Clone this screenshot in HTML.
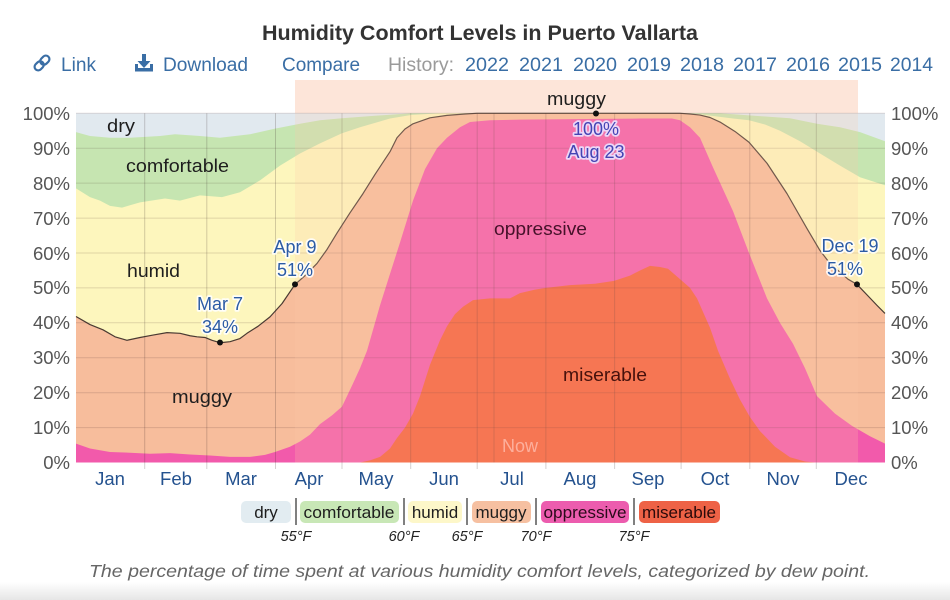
<!DOCTYPE html>
<html>
<head>
<meta charset="utf-8">
<style>
html,body{margin:0;padding:0;background:#fff;}
body{width:950px;height:600px;overflow:hidden;font-family:"Liberation Sans",sans-serif;}
svg{display:block;}
.ax{font-family:"Liberation Sans",sans-serif;font-size:18.5px;fill:#555;}
.mo{font-family:"Liberation Sans",sans-serif;font-size:18.5px;fill:#24528f;text-anchor:middle;}
.lb{font-family:"Liberation Sans",sans-serif;font-size:18px;fill:#1e1e1e;}
.an{font-family:"Liberation Sans",sans-serif;font-size:18px;fill:#2b5ba5;text-anchor:middle;paint-order:stroke;stroke:rgba(255,255,255,0.85);stroke-width:3.5px;stroke-linejoin:round;}
.nav{font-family:"Liberation Sans",sans-serif;font-size:19px;fill:#3a6ea5;}
.lg{font-family:"Liberation Sans",sans-serif;font-size:17px;fill:#1e1e1e;text-anchor:middle;}
.tf{font-family:"Liberation Sans",sans-serif;font-size:14.5px;font-style:italic;fill:#222;text-anchor:middle;}
</style>
</head>
<body>
<svg width="950" height="600" viewBox="0 0 950 600" xmlns="http://www.w3.org/2000/svg">
<defs>
<linearGradient id="bg" x1="0" y1="0" x2="0" y2="1">
<stop offset="0" stop-color="#ffffff"/>
<stop offset="1" stop-color="#e6e6e6"/>
</linearGradient>
</defs>
<rect x="0" y="0" width="950" height="600" fill="#fff"/>
<rect x="0" y="582" width="950" height="18" fill="url(#bg)"/>

<!-- Title -->
<text x="480" y="40" text-anchor="middle" font-family="Liberation Sans" font-weight="bold" font-size="21" fill="#333" textLength="436" lengthAdjust="spacingAndGlyphs">Humidity Comfort Levels in Puerto Vallarta</text>

<!-- Nav row -->
<g fill="none" stroke="#3a6ea5" stroke-width="2.2" stroke-linecap="round">
<g transform="translate(42,63) rotate(-45)">
<rect x="-9" y="-3.6" width="10" height="7.2" rx="3.6"/>
<rect x="-1" y="-3.6" width="10" height="7.2" rx="3.6"/>
</g>
</g>
<g fill="#3a6ea5">
<rect x="142" y="54" width="4" height="9"/>
<polygon points="137.5,61 150.5,61 144,68"/>
<rect x="135" y="68" width="18" height="3.5"/>
<rect x="135" y="64" width="3" height="6"/>
<rect x="150" y="64" width="3" height="6"/>
</g>
<text class="nav" x="61" y="71" textLength="35" lengthAdjust="spacingAndGlyphs">Link</text>
<text class="nav" x="163" y="71" textLength="85" lengthAdjust="spacingAndGlyphs">Download</text>
<text class="nav" x="282" y="71" textLength="78" lengthAdjust="spacingAndGlyphs">Compare</text>
<text class="nav" x="388" y="71" style="fill:#9a9a9a" textLength="66" lengthAdjust="spacingAndGlyphs">History:</text>
<text class="nav" x="465" y="71" textLength="44" lengthAdjust="spacingAndGlyphs">2022</text>
<text class="nav" x="519" y="71" textLength="44" lengthAdjust="spacingAndGlyphs">2021</text>
<text class="nav" x="573" y="71" textLength="44" lengthAdjust="spacingAndGlyphs">2020</text>
<text class="nav" x="627" y="71" textLength="44" lengthAdjust="spacingAndGlyphs">2019</text>
<text class="nav" x="680" y="71" textLength="44" lengthAdjust="spacingAndGlyphs">2018</text>
<text class="nav" x="733" y="71" textLength="44" lengthAdjust="spacingAndGlyphs">2017</text>
<text class="nav" x="786" y="71" textLength="44" lengthAdjust="spacingAndGlyphs">2016</text>
<text class="nav" x="838" y="71" textLength="44" lengthAdjust="spacingAndGlyphs">2015</text>
<text class="nav" x="890" y="71" textLength="43" lengthAdjust="spacingAndGlyphs">2014</text>

<!-- Top highlight band above plot -->
<rect x="295" y="80" width="563" height="33.3" fill="#fde5d9"/>

<!-- Plot areas in data coordinates: x pixel, y percent -->
<g transform="translate(0,462.5) scale(1,-3.492)">
<rect x="76" y="0" width="809" height="100" fill="#e1e9ef"/>
<polygon fill="#c6e5b1" points="76,0 76,94.6 90,93.5 110,93 130,93 160,93.5 175,94 200,93.5 220,93 250,94 275,95.6 300,97 320,98 342,98.6 370,99.2 390,99.6 411,100 720,100 749,99.4 790,98.6 817,97 840,96 860,94.6 885,92 885,0"/>
<polygon fill="#fdf6bd" points="76,0 76,78.5 90,76 100,75 110,73.5 122,73 140,74.5 165,75.6 180,75 200,76.5 222,76 240,77.4 260,80.8 280,85 300,88.5 320,91.4 342,94.3 360,96 390,98.5 411,99.5 440,100 680,100 700,99.7 733,98.5 749,98 765,96.8 780,95 800,92 820,88.5 840,85 860,81.7 885,79.4 885,0"/>
<polygon fill="#f7bd9c" points="76,0 76,41.8 90,39.5 103,38 115,36 127,35 140,35.8 153,36.5 167,37.2 180,37 190,36.3 197,36 205,35.8 212,35 220,34.3 230,34.6 240,35.5 247,37 258,39 270,41.7 282,45.5 295,51 305,53.5 317,57 327,61 337,65.7 350,71.5 363,77 375,82.5 390,89 397,93 405,95.5 413,97 430,98.7 447,99.4 465,99.8 477,100 680,100 690,99.8 700,99.5 710,98.8 720,97.5 735,94.8 749,91.7 767,85.7 787,77 807,67 820,60.7 830,57 840,54.5 848,52.5 857,51 867,48 877,45 885,42.7 885,0"/>
<polygon fill="#f25aab" points="76,0 76,5.4 90,4 110,3 130,2.8 150,2.5 170,2.7 190,2.3 210,2 230,1.6 250,1.6 265,2.2 275,3 290,4.5 300,6 310,8 320,11 332,13.5 342,16 352,22 360,27 367,32 375,40 380,45 390,54 400,63 413,75 425,84 437,90 447,93 460,96 470,97.5 490,98 520,98.2 560,98.3 600,98.4 640,98.5 672,98.5 680,98 690,96 700,93 713,84.5 733,72 749,60 767,47 780,40 793,34 805,27 817,19 835,14 852,10.5 870,7.5 885,5.4 885,0"/>
<polygon fill="#f45f3c" points="76,0 360,0 370,0.6 380,1.6 390,4 397,7 405,10 413,14 420,19 430,28 440,35 447,39 455,42.5 463,44.6 473,46.5 490,47 510,47 520,48.5 535,49.5 546,50 570,50.8 595,51.2 614,52 630,53.5 640,55 650,56.3 660,56 668,55.5 680,52.5 690,50 697,47 710,38.6 718,32 730,24 740,18 750,13 760,9 775,4.5 790,1.5 805,0.3 815,0 885,0"/>
<polyline fill="none" stroke="#4a3a32" stroke-width="1.2" vector-effect="non-scaling-stroke" stroke-linejoin="round" points="76,41.8 90,39.5 103,38 115,36 127,35 140,35.8 153,36.5 167,37.2 180,37 190,36.3 197,36 205,35.8 212,35 220,34.3 230,34.6 240,35.5 247,37 258,39 270,41.7 282,45.5 295,51 305,53.5 317,57 327,61 337,65.7 350,71.5 363,77 375,82.5 390,89 397,93 405,95.5 413,97 430,98.7 447,99.4 465,99.8 477,100 680,100 690,99.8 700,99.5 710,98.8 720,97.5 735,94.8 749,91.7 767,85.7 787,77 807,67 820,60.7 830,57 840,54.5 848,52.5 857,51 867,48 877,45 885,42.7"/>
</g>

<!-- Gridlines -->
<g stroke="rgba(60,40,40,0.16)" stroke-width="1">
<line x1="76" x2="885" y1="113.3" y2="113.3"/>
<line x1="76" x2="885" y1="148.2" y2="148.2"/>
<line x1="76" x2="885" y1="183.1" y2="183.1"/>
<line x1="76" x2="885" y1="218.1" y2="218.1"/>
<line x1="76" x2="885" y1="253.0" y2="253.0"/>
<line x1="76" x2="885" y1="287.9" y2="287.9"/>
<line x1="76" x2="885" y1="322.8" y2="322.8"/>
<line x1="76" x2="885" y1="357.7" y2="357.7"/>
<line x1="76" x2="885" y1="392.7" y2="392.7"/>
<line x1="76" x2="885" y1="427.6" y2="427.6"/>
</g>
<g stroke="rgba(60,40,40,0.22)" stroke-width="1">
<line x1="144.7" x2="144.7" y1="113.3" y2="469"/>
<line x1="206.8" x2="206.8" y1="113.3" y2="469"/>
<line x1="275.5" x2="275.5" y1="113.3" y2="469"/>
<line x1="342" x2="342" y1="113.3" y2="469"/>
<line x1="410.7" x2="410.7" y1="113.3" y2="469"/>
<line x1="477.2" x2="477.2" y1="113.3" y2="469"/>
<line x1="494" x2="494" y1="113.3" y2="462.5"/>
<line x1="545.9" x2="545.9" y1="113.3" y2="469"/>
<line x1="614.6" x2="614.6" y1="113.3" y2="469"/>
<line x1="681.1" x2="681.1" y1="113.3" y2="469"/>
<line x1="749.8" x2="749.8" y1="113.3" y2="469"/>
<line x1="816.3" x2="816.3" y1="113.3" y2="469"/>
</g>

<!-- Highlight overlay on plot -->
<rect x="295" y="113.3" width="563" height="349.2" fill="rgba(255,200,170,0.22)"/>

<!-- Region labels -->
<text class="lb" x="107" y="132" textLength="28" lengthAdjust="spacingAndGlyphs">dry</text>
<text class="lb" x="126" y="172" textLength="103" lengthAdjust="spacingAndGlyphs">comfortable</text>
<text class="lb" x="127" y="277" textLength="53" lengthAdjust="spacingAndGlyphs">humid</text>
<text class="lb" x="172" y="403" textLength="60" lengthAdjust="spacingAndGlyphs">muggy</text>
<text class="lb" x="494" y="235" style="fill:rgba(40,0,20,0.85)" textLength="93" lengthAdjust="spacingAndGlyphs">oppressive</text>
<text class="lb" x="563" y="381" style="fill:rgba(40,0,0,0.85)" textLength="84" lengthAdjust="spacingAndGlyphs">miserable</text>
<text class="lb" x="547" y="105" textLength="59" lengthAdjust="spacingAndGlyphs">muggy</text>
<text x="520" y="452" text-anchor="middle" font-family="Liberation Sans" font-size="18" fill="rgba(255,190,175,0.8)">Now</text>

<!-- Annotations -->
<text class="an" x="220" y="310">Mar 7</text>
<text class="an" x="220" y="333">34%</text>
<text class="an" x="295" y="253">Apr 9</text>
<text class="an" x="295" y="276">51%</text>
<text class="an" x="850" y="252">Dec 19</text>
<text class="an" x="845" y="275">51%</text>
<text class="an" x="596" y="135" style="fill:#4444b4;stroke:rgba(235,225,255,0.9)">100%</text>
<text class="an" x="596" y="158" style="fill:#4444b4;stroke:rgba(235,225,255,0.9)">Aug 23</text>
<g fill="#111">
<circle cx="220" cy="342.5" r="3"/>
<circle cx="295" cy="284.4" r="3"/>
<circle cx="596" cy="113.5" r="3"/>
<circle cx="857" cy="284.4" r="3"/>
</g>

<!-- Y axis labels left -->
<text class="ax" x="70" y="120" text-anchor="end">100%</text>
<text class="ax" x="70" y="155" text-anchor="end">90%</text>
<text class="ax" x="70" y="190" text-anchor="end">80%</text>
<text class="ax" x="70" y="225" text-anchor="end">70%</text>
<text class="ax" x="70" y="260" text-anchor="end">60%</text>
<text class="ax" x="70" y="294" text-anchor="end">50%</text>
<text class="ax" x="70" y="329" text-anchor="end">40%</text>
<text class="ax" x="70" y="364" text-anchor="end">30%</text>
<text class="ax" x="70" y="399" text-anchor="end">20%</text>
<text class="ax" x="70" y="434" text-anchor="end">10%</text>
<text class="ax" x="70" y="469" text-anchor="end">0%</text>
<!-- right -->
<text class="ax" x="891" y="120">100%</text>
<text class="ax" x="891" y="155">90%</text>
<text class="ax" x="891" y="190">80%</text>
<text class="ax" x="891" y="225">70%</text>
<text class="ax" x="891" y="260">60%</text>
<text class="ax" x="891" y="294">50%</text>
<text class="ax" x="891" y="329">40%</text>
<text class="ax" x="891" y="364">30%</text>
<text class="ax" x="891" y="399">20%</text>
<text class="ax" x="891" y="434">10%</text>
<text class="ax" x="891" y="469">0%</text>

<!-- Month labels -->
<text class="mo" x="110" y="485">Jan</text>
<text class="mo" x="176" y="485">Feb</text>
<text class="mo" x="241" y="485">Mar</text>
<text class="mo" x="309" y="485">Apr</text>
<text class="mo" x="376" y="485">May</text>
<text class="mo" x="444" y="485">Jun</text>
<text class="mo" x="512" y="485">Jul</text>
<text class="mo" x="580" y="485">Aug</text>
<text class="mo" x="648" y="485">Sep</text>
<text class="mo" x="715" y="485">Oct</text>
<text class="mo" x="783" y="485">Nov</text>
<text class="mo" x="851" y="485">Dec</text>

<!-- Legend -->
<rect x="241" y="501" width="50" height="22" rx="5" fill="#e2ecf1"/>
<rect x="300" y="501" width="99" height="22" rx="5" fill="#c8e7b6"/>
<rect x="408" y="501" width="54" height="22" rx="5" fill="#fdf7c9"/>
<rect x="472" y="501" width="59" height="22" rx="5" fill="#f6c0a1"/>
<rect x="541" y="501" width="88" height="22" rx="5" fill="#ec5cae"/>
<rect x="639" y="501" width="81" height="22" rx="5" fill="#ee6246"/>
<g stroke="#555" stroke-width="1.5">
<line x1="296" x2="296" y1="498" y2="525"/>
<line x1="404" x2="404" y1="498" y2="525"/>
<line x1="467" x2="467" y1="498" y2="525"/>
<line x1="536" x2="536" y1="498" y2="525"/>
<line x1="634" x2="634" y1="498" y2="525"/>
</g>
<text class="lg" x="266" y="518">dry</text>
<text class="lg" x="349" y="518" textLength="91" lengthAdjust="spacingAndGlyphs">comfortable</text>
<text class="lg" x="435" y="518">humid</text>
<text class="lg" x="501" y="518">muggy</text>
<text class="lg" x="585" y="518" style="fill:#2a0a1a" textLength="83" lengthAdjust="spacingAndGlyphs">oppressive</text>
<text class="lg" x="679" y="518" style="fill:#2a0a0a" textLength="74" lengthAdjust="spacingAndGlyphs">miserable</text>
<text class="tf" x="296" y="541">55°F</text>
<text class="tf" x="404" y="541">60°F</text>
<text class="tf" x="467" y="541">65°F</text>
<text class="tf" x="536" y="541">70°F</text>
<text class="tf" x="634" y="541">75°F</text>

<!-- Caption -->
<text x="479.5" y="577" text-anchor="middle" font-family="Liberation Sans" font-style="italic" font-size="17.5" fill="#666" textLength="781" lengthAdjust="spacingAndGlyphs">The percentage of time spent at various humidity comfort levels, categorized by dew point.</text>
</svg>
</body>
</html>
